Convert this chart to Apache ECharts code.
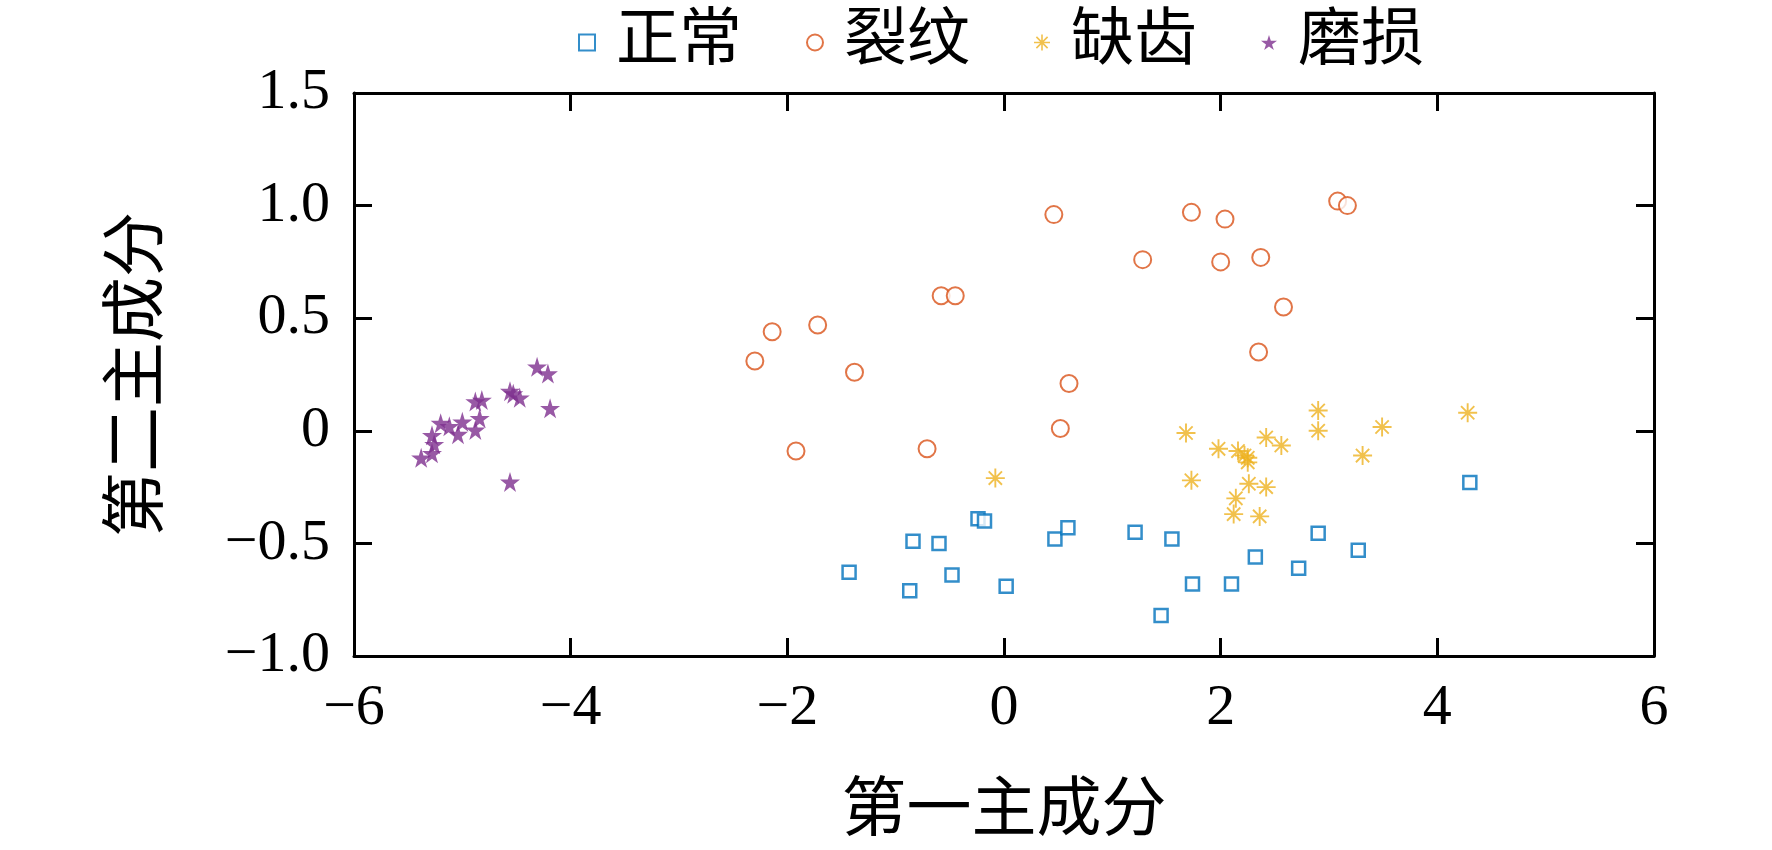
<!DOCTYPE html>
<html>
<head>
<meta charset="utf-8">
<script src="https://cdn.jsdelivr.net/npm/echarts@6/dist/echarts.min.js"></script>
<style>
html,body{margin:0;padding:0;background:#fff;}
#chart{width:1772px;height:850px;}
</style>
</head>
<body>
<div id="chart"></div>
<script>
// ---- data ----
const seriesNames = ['正常', '裂纹', '缺齿', '磨损'];
const normalPts = [
  [-1.43,-0.628],[-0.84,-0.49],[-0.87,-0.71],[-0.60,-0.50],[-0.48,-0.64],
  [-0.24,-0.39],[-0.18,-0.40],[0.02,-0.69],[0.47,-0.48],[0.59,-0.43],
  [1.21,-0.45],[1.55,-0.48],[1.74,-0.68],[1.45,-0.82],[2.10,-0.68],
  [2.32,-0.56],[2.72,-0.61],[2.90,-0.455],[3.27,-0.53],[4.30,-0.23]
];
const crackPts = [
  [-2.30,0.31],[-2.14,0.44],[-1.72,0.47],[-1.38,0.26],[-1.92,-0.09],
  [-0.58,0.60],[-0.45,0.60],[-0.71,-0.08],[0.46,0.96],[0.52,0.01],
  [0.60,0.21],[1.28,0.76],[1.73,0.97],[2.04,0.94],[2.00,0.75],
  [2.37,0.77],[2.35,0.35],[2.58,0.55],[3.08,1.02],[3.17,1.00]
];
const toothPts = [
  [-0.08,-0.21],[1.68,-0.01],[1.98,-0.08],[2.16,-0.09],[2.25,-0.12],
  [2.25,-0.14],[2.22,-0.11],[2.42,-0.03],[2.56,-0.065],[2.90,0.09],
  [2.90,0.0],[3.49,0.017],[3.31,-0.11],[1.73,-0.22],[2.26,-0.235],
  [2.42,-0.25],[2.14,-0.30],[2.12,-0.37],[2.36,-0.38],[4.28,0.08]
];
const wearPts = [
  [-4.31,0.284],[-4.21,0.254],[-4.19,0.10],[-4.56,0.176],[-4.47,0.147],
  [-4.53,0.165],[-4.56,-0.227],[-4.82,0.137],[-4.88,0.13],[-4.84,0.056],
  [-4.88,0.004],[-5.00,0.04],[-5.04,-0.015],[-5.20,0.034],[-5.12,0.02],
  [-5.28,-0.02],[-5.26,-0.06],[-5.28,-0.10],[-5.38,-0.12]
];
const xTickValues = [-6,-4,-2,0,2,4,6];
const xTickLabels = ['\u22126','\u22124','\u22122','0','2','4','6'];
const yTickValues = [-1.0,-0.5,0,0.5,1.0,1.5];
const yTickLabels = ['\u22121.0','\u22120.5','0','0.5','1.0','1.5'];
const xTitle = '第一主成分';
const yTitle = '第二主成分';

// ---- styling ----
const FONT = "'Liberation Serif','Times New Roman','Noto Sans CJK SC',serif";
const colors = ['#0072BD','#D95319','#EDB120','#7E2F8E'];
const asteriskPath = 'path://M0 9L20 9L20 11L0 11Z M9 0L11 0L11 20L9 20Z M2.3 3.7L3.7 2.3L17.7 16.3L16.3 17.7Z M16.3 2.3L17.7 3.7L3.7 17.7L2.3 16.3Z';
const starPath = 'path://M50 0L61 35L98 35L68 57L79 91L50 70L21 91L32 57L2 35L39 35Z';

function labelFor(values, labels) {
  return function (v) {
    for (let i = 0; i < values.length; i++) {
      if (Math.abs(values[i] - v) < 1e-6) return labels[i];
    }
    return '';
  };
}

const axisLine = { show: true, onZero: false, lineStyle: { color: '#000', width: 3 } };
const axisTick = { show: true, inside: true, length: 18, lineStyle: { color: '#000', width: 3 } };

const chart = echarts.init(document.getElementById('chart'));
chart.setOption({
  backgroundColor: '#fff',
  animation: false,
  color: colors,
  textStyle: { fontFamily: FONT },
  legend: {
    top: 6,
    left: 573,
    itemGap: 64,
    itemWidth: 16,
    itemHeight: 16,
    textStyle: { fontFamily: FONT, fontSize: 63, color: '#000', padding: [0, 0, 0, 16] },
    data: seriesNames
  },
  grid: { left: 354, right: 118, top: 93, bottom: 191, containLabel: false },
  xAxis: [{
    type: 'value', min: -6, max: 6, interval: 2, position: 'bottom',
    name: xTitle, nameLocation: 'middle', nameGap: 124,
    nameTextStyle: { fontFamily: FONT, fontSize: 65, color: '#000' },
    axisLine: axisLine, axisTick: axisTick, splitLine: { show: false },
    axisLabel: { fontFamily: FONT, fontSize: 58, color: '#000', margin: 24,
      formatter: labelFor(xTickValues, xTickLabels) }
  }, {
    type: 'value', min: -6, max: 6, interval: 2, position: 'top',
    axisLine: axisLine, axisTick: axisTick, splitLine: { show: false },
    axisLabel: { show: false }
  }],
  yAxis: [{
    type: 'value', min: -1.0, max: 1.5, interval: 0.5, position: 'left',
    name: yTitle, nameLocation: 'middle', nameGap: 182, nameRotate: 90,
    nameTextStyle: { fontFamily: FONT, fontSize: 65, color: '#000' },
    axisLine: axisLine, axisTick: axisTick, splitLine: { show: false },
    axisLabel: { fontFamily: FONT, fontSize: 58, color: '#000', margin: 24,
      formatter: labelFor(yTickValues, yTickLabels) }
  }, {
    type: 'value', min: -1.0, max: 1.5, interval: 0.5, position: 'right',
    axisLine: axisLine, axisTick: axisTick, splitLine: { show: false },
    axisLabel: { show: false }
  }],
  series: [{
    name: seriesNames[0], type: 'scatter', data: normalPts,
    symbol: 'rect', symbolSize: 13,
    itemStyle: { color: '#ffffff', borderColor: colors[0], borderWidth: 2.5 }
  }, {
    name: seriesNames[1], type: 'scatter', data: crackPts,
    symbol: 'circle', symbolSize: 17,
    itemStyle: { color: '#ffffff', borderColor: colors[1], borderWidth: 2 }
  }, {
    name: seriesNames[2], type: 'scatter', data: toothPts,
    symbol: asteriskPath, symbolSize: 19,
    itemStyle: { color: colors[2] }
  }, {
    name: seriesNames[3], type: 'scatter', data: wearPts,
    symbol: starPath, symbolSize: 20,
    itemStyle: { color: colors[3] }
  }]
});
</script>
</body>
</html>
